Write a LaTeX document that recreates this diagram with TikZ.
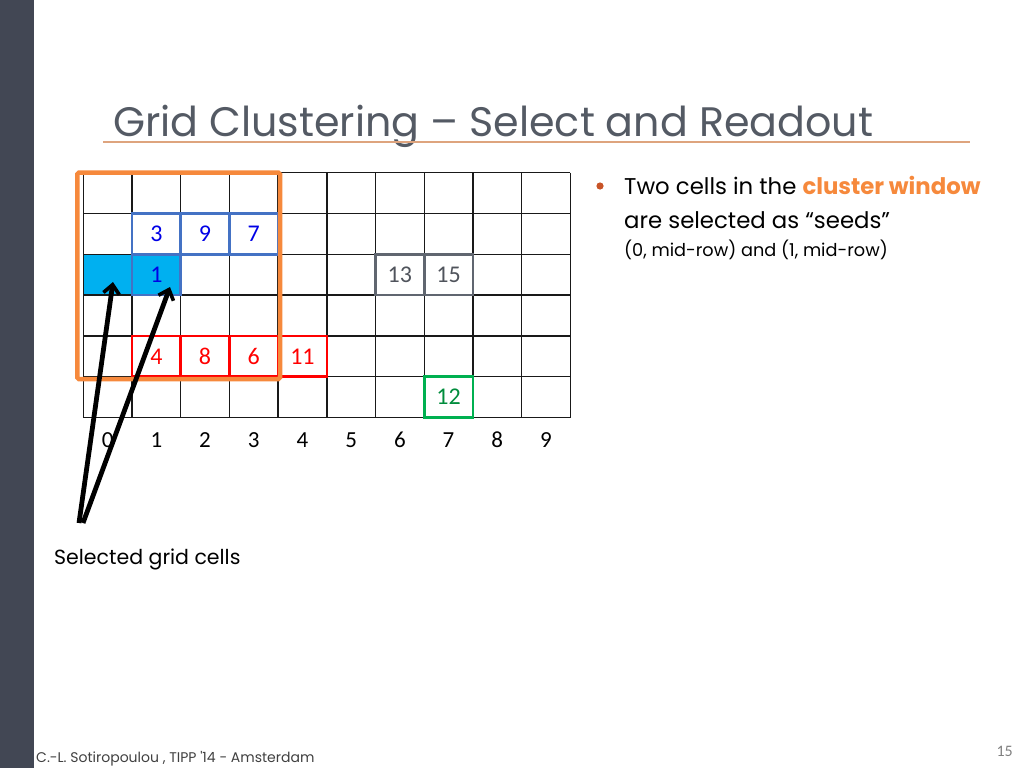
\documentclass[tikz,border=0pt]{standalone}
\usepackage{fontspec}
\setmainfont{Poppins}
\newfontfamily\calib{Carlito}
\usetikzlibrary{arrows.meta}

\definecolor{slidebar}{RGB}{66,71,84}
\definecolor{titlegray}{RGB}{84,90,100}
\definecolor{ruleorange}{RGB}{222,164,126}
\definecolor{winorange}{RGB}{246,137,60}
\definecolor{seedcyan}{RGB}{0,176,240}
\definecolor{boxblue}{RGB}{68,114,196}
\definecolor{numblue}{RGB}{0,0,230}
\definecolor{boxred}{RGB}{255,0,0}
\definecolor{boxgray}{RGB}{96,102,112}
\definecolor{numgray}{RGB}{80,84,92}
\definecolor{boxgreen}{RGB}{0,176,80}
\definecolor{numgreen}{RGB}{0,140,60}
\definecolor{bulletred}{RGB}{200,84,40}

\begin{document}
\begin{tikzpicture}[
    x=1pt, y=-1pt,
    gridline/.style={draw=black!90, line width=1.4pt},
    cellbox/.style={draw=#1, line width=2.6pt, minimum width=48.7pt,
        minimum height=40.8pt, inner sep=0pt, font=\calib\fontsize{24}{24}\selectfont},
    axislabel/.style={font=\calib\fontsize{23}{23}\selectfont, inner sep=0pt},
    pointer/.style={draw=black, line width=4.8pt,
        -{Straight Barb[length=9pt, width=16pt, line width=3.6pt]}},
    every node/.style={inner sep=0pt}
]
\useasboundingbox (0,0) rectangle (1024,768);

% slide frame
\fill[slidebar] (0,0) rectangle (34,768);
\node[anchor=base west, text=titlegray, font=\fontsize{41.2}{41.2}\selectfont] (title)
    at (113,136) {Grid Clustering -- Select and Readout};
\draw[ruleorange, line width=1.4pt] (103,142) -- (970,142);

% the grid, in cell units
\begin{scope}[shift={(83.3,172.7)}, x=48.7pt, y=-40.8pt]
    \fill[seedcyan] (0,2) rectangle (2,3);
    \foreach \c in {0,...,10} \draw[gridline] (\c,0) -- (\c,6);
    \foreach \r in {0,...,6} \draw[gridline] (0,\r) -- (10,\r);

    \node[cellbox=boxblue, text=numblue] (n3) at (1.5,1.5) {3};
    \node[cellbox=boxblue, text=numblue] (n9) at (2.5,1.5) {9};
    \node[cellbox=boxblue, text=numblue] (n7) at (3.5,1.5) {7};
    \node[cellbox=boxblue, text=numblue] (n1) at (1.5,2.5) {1};
    \node (seed0) at (0.5,2.5) {};

    \node[cellbox=boxgray, text=numgray] (n13) at (6.5,2.5) {13};
    \node[cellbox=boxgray, text=numgray] (n15) at (7.5,2.5) {15};

    \node[cellbox=boxred, text=boxred] (n4) at (1.5,4.5) {4};
    \node[cellbox=boxred, text=boxred] (n8) at (2.5,4.5) {8};
    \node[cellbox=boxred, text=boxred] (n6) at (3.5,4.5) {6};
    \node[cellbox=boxred, text=boxred] (n11) at (4.5,4.5) {11};

    \node[cellbox=boxgreen, text=numgreen] (n12) at (7.5,5.5) {12};

    \foreach \c in {0,...,9}
        \node[axislabel] (col\c) at (\c+0.5,6.55) {\c};
\end{scope}

% cluster window
\draw[winorange, line width=4.5pt, rounded corners=1.5pt] (77.3,172.7) rectangle (280,379);

% pointers to the seeds
\node[anchor=base west, font=\fontsize{20.5}{20.5}\selectfont] (selcells) at (54,564) {Selected grid cells};
\coordinate (tail) at (81,523);
\coordinate (tipA) at (113,282);
\coordinate (tipB) at (170,287);
\draw[pointer] ([xshift=-2pt]tail) -- (tipA);
\draw[pointer] ([xshift=2pt]tail) -- (tipB);

% bullet text
\fill[bulletred] (600,186) circle (3.6);
\node[anchor=base west, font=\fontsize{22.8}{22.8}\selectfont] (line1) at (624,194)
    {Two cells in the \textcolor{winorange}{\bfseries cluster window}};
\node[anchor=base west, font=\fontsize{22.8}{22.8}\selectfont] (line2) at (624,228)
    {are selected as “seeds”};
\node[anchor=base west, font=\fontsize{17.7}{17.7}\selectfont] (line3) at (624,256)
    {(0, mid-row) and (1, mid-row)};

% footer
\node[anchor=base west, text=black!75, font=\fontsize{14}{14}\selectfont] (footer) at (36,762)
    {C.-L. Sotiropoulou , TIPP \textquotesingle14 - Amsterdam};
\node[anchor=base east, text=gray, font=\calib\fontsize{16}{16}\selectfont] (pagenum) at (1013,756) {15};
\end{tikzpicture}
\end{document}
